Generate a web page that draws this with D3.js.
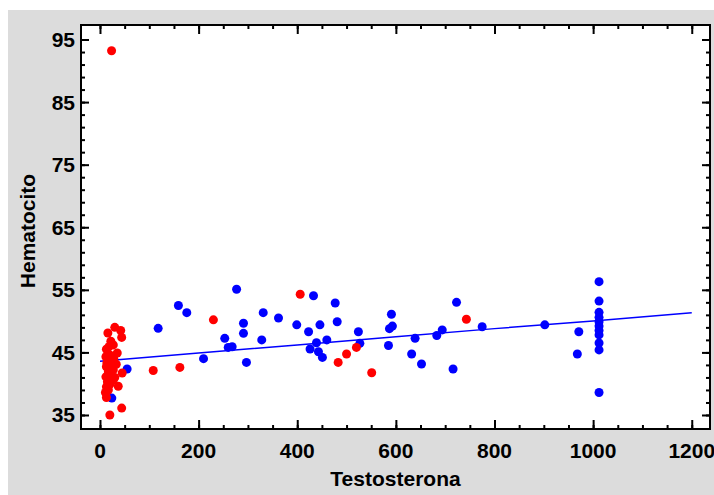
<!DOCTYPE html>
<html>
<head>
<meta charset="utf-8">
<script src="https://cdn.jsdelivr.net/npm/d3@7"></script>
<style>
  body { margin:0; background:#ffffff; }
  text { font-family:"Liberation Sans", Arial, sans-serif; font-weight:bold; fill:#000; }
</style>
</head>
<body>
<svg class="chart"></svg>
<script>
// puntos azules (testosterona, hematocito)
var azulX = [118,159,176,277,210,253,260,268,291,291,297,331,328,362,399,423,433,446,439,426,460,443,451,477,481,
             524,527,591,587,593,585,639,632,652,683,694,723,716,775,902,971,968,
             1012,1012,1012,1012,1012,1012,1012,1012,1012,1012,1012,24,55];
var azulY = [48.85,52.5,51.35,55.1,44.0,47.25,45.8,45.9,49.65,48.05,43.4,51.35,47.0,50.5,49.4,48.3,54.05,49.4,46.55,45.55,47.0,45.1,44.2,52.9,49.9,
             48.3,46.45,51.1,48.8,49.2,46.1,47.25,44.75,43.15,47.7,48.6,53.0,42.35,49.1,49.4,48.3,44.75,
             56.3,53.2,51.4,50.6,49.9,49.2,48.5,47.8,46.5,45.4,38.6,37.7,42.35];
// puntos rojos
var rojoX = [30,16,42,44,27,22,13,18,35,12,20,28,24,14,33,13,20,27,45,17,12,22,30,27,15,37,13,20,17,11,13,44,20,23.5,
             108,162,230,406,483,500,520,551,743];
var rojoY = [49.0,48.1,48.5,47.4,46.2,46.8,45.5,45.9,44.9,44.3,44.6,44.0,43.5,43.3,43.1,42.7,42.9,42.2,41.7,41.9,41.1,41.4,41.0,40.6,40.3,39.6,39.5,39.9,39.0,38.6,37.8,36.1,35.0,93.2,
             42.1,42.6,50.2,54.3,43.4,44.75,45.8,41.75,50.3];
// modelo ajustado
var ajusteX = [0,200,400,600,800,1000,1200];
var ajusteY = [43.6,44.9,46.2,47.5,48.8,50.0,51.35];

var xTicks = [0,200,400,600,800,1000,1200];
var yTicks = [35,45,55,65,75,85,95];

var W = 714, H = 495;
var L = 81, R = 710, T = 25, B = 429;

var canvas = d3.select(".chart").attr("width",W).attr("height",H);

canvas.append("rect").attr("x",8).attr("y",10).attr("width",W-8).attr("height",H-10).attr("fill","#dcdcdc");
canvas.append("rect").attr("x",L).attr("y",T).attr("width",R-L).attr("height",B-T).attr("fill","#ffffff");

var x = d3.scaleLinear().domain([-38.5,1237]).range([L,R]);
var y = d3.scaleLinear().domain([32.76,97.32]).range([B,T]);

var xMinor = d3.range(0,1201,50), yMinor = d3.range(35,96,2);

/* ticks hacia adentro en los cuatro lados */
function ejes(){
  var g = canvas.append("g").classed("ejes",true);
  var lados = [
    [d3.axisBottom(x).tickValues(xMinor).tickSize(-4), "translate(0,"+B+")"],
    [d3.axisBottom(x).tickValues(xTicks).tickSize(-9), "translate(0,"+B+")"],
    [d3.axisTop(x).tickValues(xMinor).tickSize(-4), "translate(0,"+T+")"],
    [d3.axisTop(x).tickValues(xTicks).tickSize(-9), "translate(0,"+T+")"],
    [d3.axisLeft(y).tickValues(yMinor).tickSize(-4), "translate("+L+",0)"],
    [d3.axisLeft(y).tickValues(yTicks).tickSize(-8), "translate("+L+",0)"],
    [d3.axisRight(y).tickValues(yMinor).tickSize(-4), "translate("+R+",0)"],
    [d3.axisRight(y).tickValues(yTicks).tickSize(-8), "translate("+R+",0)"]
  ];
  lados.forEach(l=>{
    var a = g.append("g").attr("transform",l[1]).call(l[0].tickFormat(""));
    a.select(".domain").remove();
    a.selectAll("line").attr("stroke","#000").attr("stroke-width",2);
  });
}
ejes();

canvas.selectAll(".azul").data(azulX).enter().append("circle")
  .classed("azul",true)
  .attr("cx",d=>x(d)).attr("cy",(d,i)=>y(azulY[i])).attr("r",4.5).attr("fill","#0000ff");

var linea = d3.line().x(d=>x(d)).y((d,i)=>y(ajusteY[i]));
canvas.append("path").datum(ajusteX).attr("d",linea)
  .attr("fill","none").attr("stroke","#0000ff").attr("stroke-width",1.5);

canvas.selectAll(".rojo").data(rojoX).enter().append("circle")
  .classed("rojo",true)
  .attr("cx",d=>x(d)).attr("cy",(d,i)=>y(rojoY[i])).attr("r",4.5).attr("fill","#ff0000");

canvas.append("rect").attr("x",L).attr("y",T).attr("width",R-L).attr("height",B-T)
  .attr("fill","none").attr("stroke","#000").attr("stroke-width",2);

/* etiquetas */
canvas.selectAll(".xlab").data(xTicks).enter().append("text")
  .attr("x",d=>x(d)).attr("y",458).attr("text-anchor","middle").style("font-size","21px").text(d=>d);
canvas.selectAll(".ylab").data(yTicks).enter().append("text")
  .attr("x",75).attr("y",d=>y(d)+7.5).attr("text-anchor","end").style("font-size","21px").text(d=>d);

canvas.append("text").attr("x",(L+R)/2).attr("y",486).attr("text-anchor","middle")
  .style("font-size","21px").text("Testosterona");
canvas.append("text").attr("transform","translate(35,"+((T+B)/2+4)+") rotate(-90)").attr("text-anchor","middle")
  .style("font-size","21px").text("Hematocito");
</script>
</body>
</html>
